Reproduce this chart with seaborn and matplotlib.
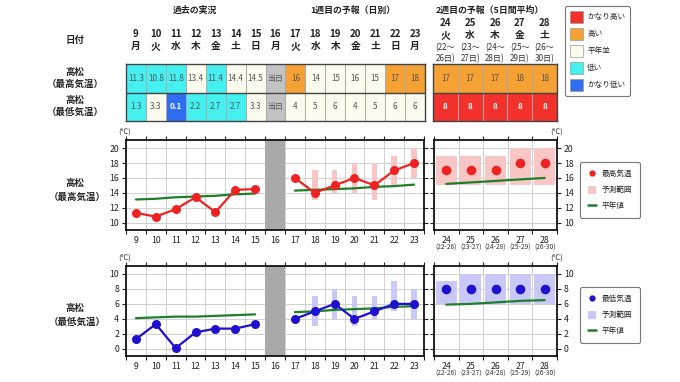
import numpy as np
import pandas as pd
import matplotlib
matplotlib.use("Agg")
import matplotlib.pyplot as plt
import seaborn as sns
from matplotlib.colors import ListedColormap
from matplotlib.patches import Patch
from matplotlib.lines import Line2D
from matplotlib.ticker import FixedLocator

sns.set_theme(style="white")
plt.rcParams["font.family"] = ["Noto Sans CJK JP", "DejaVu Sans"]

# ---------------- data ----------------
days_all = list(range(9, 24))          # 9..23 (16 = today)
past_days = [9, 10, 11, 12, 13, 14, 15]
week1_days = [17, 18, 19, 20, 21, 22, 23]
week2_days = [24, 25, 26, 27, 28]
weekday_1 = ["月", "火", "水", "木", "金", "土", "日", "月", "火", "水", "木", "金", "土", "日", "月"]
weekday_2 = ["火", "水", "木", "金", "土"]
week2_from = ["22", "23", "24", "25", "26"]
week2_to = ["26", "27", "28", "29", "30"]

max_obs = [11.3, 10.8, 11.8, 13.4, 11.4, 14.4, 14.5]
min_obs = [1.3, 3.3, 0.1, 2.2, 2.7, 2.7, 3.3]
max_fc1 = [16, 14, 15, 16, 15, 17, 18]
min_fc1 = [4, 5, 6, 4, 5, 6, 6]
max_fc1_lo = [np.nan, 13, 14, 14, 13, 15, 16]
max_fc1_hi = [np.nan, 17, 17, 18, 18, 19, 20]
min_fc1_lo = [np.nan, 3, 4, 3, 4, 5, 4]
min_fc1_hi = [np.nan, 7, 8, 7, 7, 9, 8]
max_fc2 = [17, 17, 17, 18, 18]
min_fc2 = [8, 8, 8, 8, 8]
max_fc2_lo = [15, 15, 15, 15, 15]
max_fc2_hi = [19, 19, 19, 20, 20]
min_fc2_lo = [6, 6, 6, 6, 6]
min_fc2_hi = [9, 10, 10, 10, 10]

max_norm_past = [13.1, 13.2, 13.4, 13.5, 13.6, 13.8, 13.9]
max_norm_w1 = [14.3, 14.4, 14.5, 14.6, 14.8, 14.9, 15.1]
max_norm_w2 = [15.2, 15.4, 15.6, 15.8, 16.0]
min_norm_past = [4.1, 4.2, 4.3, 4.3, 4.4, 4.5, 4.6]
min_norm_w1 = [4.9, 5.0, 5.2, 5.3, 5.4, 5.6, 5.7]
min_norm_w2 = [5.9, 6.0, 6.2, 6.4, 6.5]

# class codes: 0 かなり低い, 1 低い, 2 平年並, 3 高い, 4 かなり高い, 5 当日
max_cls1 = [1, 1, 1, 2, 1, 2, 2, 5, 3, 2, 2, 2, 2, 3, 3]
min_cls1 = [1, 2, 0, 1, 1, 1, 2, 5, 2, 2, 2, 2, 2, 2, 2]
max_cls2 = [3, 3, 3, 3, 3]
min_cls2 = [4, 4, 4, 4, 4]
class_names = ["かなり高い", "高い", "平年並", "低い", "かなり低い"]
class_colors = ["#2f6ef2", "#44f0f0", "#fcfcee", "#f5a133", "#f2312c", "#c3c3c3"]

RED = "#ee2222"
BLUE = "#1f10d0"
PINK = "#f9c6c6"
LAV = "#c9c9f7"
GREEN = "#1e7f2a"
GRAY_TXT = "#555555"

# ---------------- figure ----------------
W, H = 680, 382
fig = plt.figure(figsize=(6.8, 3.82), dpi=100)


def add_ax(x0, y0, x1, y1):
    return fig.add_axes([x0 / W, 1 - y1 / H, (x1 - x0) / W, (y1 - y0) / H])


def ftext(px, py, s, **kw):
    kw.setdefault("ha", "center")
    kw.setdefault("va", "center")
    kw.setdefault("color", "#222222")
    fig.text(px / W, 1 - py / H, s, **kw)


cmap = ListedColormap(class_colors)


def draw_table(ax, cls_rows, lbl_rows):
    sns.heatmap(np.array(cls_rows), ax=ax, cmap=cmap, vmin=-0.5, vmax=5.5, cbar=False,
                annot=np.array(lbl_rows), fmt="", linewidths=0.6, linecolor="#aaaaaa",
                annot_kws={"fontsize": 5.8}, xticklabels=False, yticklabels=False)
    flat = [c for r in cls_rows for c in r]
    for t, c in zip(ax.texts, flat):
        if c in (0, 4):
            t.set_color("white")
            t.set_fontweight("bold")
        else:
            t.set_color(GRAY_TXT)
    for s in ax.spines.values():
        s.set_visible(True)
        s.set_color("#444444")
        s.set_linewidth(1.0)
    ax.axhline(1, color="#444444", lw=1.0)


def fmt_obs(v):
    return f"{v:.1f}"


max_lbl1 = [fmt_obs(v) for v in max_obs] + ["当日"] + [str(v) for v in max_fc1]
min_lbl1 = [fmt_obs(v) for v in min_obs] + ["当日"] + [str(v) for v in min_fc1]

t1 = add_ax(126, 64, 425, 121)
draw_table(t1, [max_cls1, min_cls1], [max_lbl1, min_lbl1])
t2 = add_ax(433, 64, 557, 121)
draw_table(t2, [max_cls2, min_cls2], [[str(v) for v in max_fc2], [str(v) for v in min_fc2]])

# section titles
ftext(195, 10, "過去の実況", fontsize=6.4, fontweight="bold")
ftext(353, 10, "1週目の予報（日別）", fontsize=6.4, fontweight="bold")
ftext(490, 10, "2週目の予報（5日間平均）", fontsize=6.4, fontweight="bold")

# header
ftext(75, 40, "日付", fontsize=6.8, fontweight="bold")
cw1 = (425 - 126) / 15
for i, (d, wd) in enumerate(zip(days_all, weekday_1)):
    cx = 126 + (i + 0.5) * cw1
    ftext(cx, 34, str(d), fontsize=7, fontweight="bold")
    ftext(cx, 46, wd, fontsize=7, fontweight="bold")
cw2 = (557 - 433) / 5
for i, d in enumerate(week2_days):
    cx = 433 + (i + 0.5) * cw2
    ftext(cx, 23, str(d), fontsize=7, fontweight="bold")
    ftext(cx, 35, weekday_2[i], fontsize=7, fontweight="bold")
    ftext(cx, 48, f"({week2_from[i]}～", fontsize=5.8, color="#333333")
    ftext(cx, 59, f"{week2_to[i]}日)", fontsize=5.8, color="#333333")

for (yy, s) in [(72, "高松"), (84, "（最高気温）"), (100, "高松"), (112, "（最低気温）")]:
    ftext(75, yy, s, fontsize=6.8, fontweight="bold")

# top-right legend
top_handles = [Patch(facecolor=class_colors[4], edgecolor="#999999", lw=0.5),
               Patch(facecolor=class_colors[3], edgecolor="#999999", lw=0.5),
               Patch(facecolor=class_colors[2], edgecolor="#999999", lw=0.5),
               Patch(facecolor=class_colors[1], edgecolor="#999999", lw=0.5),
               Patch(facecolor=class_colors[0], edgecolor="#999999", lw=0.5)]
lg = fig.legend(top_handles, class_names, loc="upper left", bbox_to_anchor=(565 / W, 1 - 6 / H),
                fontsize=5.5, frameon=True, fancybox=True, edgecolor="#555555",
                handlelength=1.7, handleheight=2.1, handletextpad=0.6, labelspacing=0.62,
                borderpad=0.6, borderaxespad=0)
lg.get_frame().set_linewidth(0.8)


# ---------------- charts ----------------
def style_axes(ax, xlo, xhi, ylo, yhi, yticks, right=False):
    ax.set_xlim(xlo, xhi)
    ax.set_ylim(ylo, yhi)
    ax.xaxis.set_minor_locator(FixedLocator(np.arange(xlo, xhi + 0.01, 1.0)))
    ax.set_yticks(yticks)
    ax.grid(False)
    ax.grid(True, which="minor", axis="x", color="#d0d0d0", lw=0.7)
    ax.grid(True, which="major", axis="y", color="#d0d0d0", lw=0.7)
    ax.tick_params(axis="x", which="major", length=0, labelsize=6.3, pad=4, colors="#222222")
    ax.tick_params(axis="x", which="minor", length=3, width=0.8, direction="out", top=True, bottom=True,
                   color="#222222")
    ax.tick_params(axis="y", which="major", length=3, width=0.8, direction="out", labelsize=6.3,
                   left=True, right=True, colors="#222222", pad=2)
    if right:
        ax.yaxis.tick_right()
        ax.tick_params(axis="y", left=True, right=True, labelleft=False, labelright=True)
    else:
        ax.tick_params(axis="y", labelleft=True, labelright=False)
    for s in ax.spines.values():
        s.set_visible(True)
        s.set_color("#111111")
        s.set_linewidth(1.3)
    ax.set_axisbelow(True)


def draw_chart(y0, y1, obs, fc1, lo1, hi1, fc2, lo2, hi2, n_past, n_w1, n_w2,
               col, rng_col, ylim, yticks, label, lab_y, sub_y):
    a1 = add_ax(126, y0, 424, y1)
    a2 = add_ax(434, y0, 557, y1)
    style_axes(a1, 8.5, 23.5, ylim[0], ylim[1], yticks)
    style_axes(a2, 23.5, 28.5, ylim[0], ylim[1], yticks, right=True)
    a1.axvspan(15.5, 16.5, color="#a9a9a9", zorder=1.5, lw=0)

    lo1a, hi1a = np.array(lo1, float), np.array(hi1, float)
    a1.bar(week1_days, hi1a - lo1a, bottom=lo1a, width=0.28, color=rng_col, zorder=2, lw=0)
    a2.bar(week2_days, np.array(hi2) - np.array(lo2), bottom=lo2, width=0.86, color=rng_col,
           zorder=2, lw=0)

    sns.lineplot(x=past_days, y=n_past, ax=a1, color=GREEN, lw=1.6, zorder=3)
    sns.lineplot(x=week1_days, y=n_w1, ax=a1, color=GREEN, lw=1.6, zorder=3)
    sns.lineplot(x=week2_days, y=n_w2, ax=a2, color=GREEN, lw=1.6, zorder=3)

    for xs, ys in [(past_days, obs), (week1_days, fc1)]:
        sns.lineplot(x=xs, y=ys, ax=a1, color=col, lw=1.6, marker="o", markersize=6.5,
                     markeredgewidth=0, zorder=4)
    sns.scatterplot(x=week2_days, y=fc2, ax=a2, color=col, s=48, linewidth=0, zorder=4)

    for a in (a1, a2):
        a.set_xlabel("")
        a.set_ylabel("")
    a1.set_xticks(days_all)
    a1.set_xticklabels([str(d) for d in days_all])
    a2.set_xticks(week2_days)
    a2.set_xticklabels([str(d) for d in week2_days])
    a1.set_xlim(8.5, 23.5)
    a2.set_xlim(23.5, 28.5)
    a1.set_ylim(*ylim)
    a2.set_ylim(*ylim)
    for d, f, t in zip(week2_days, week2_from, week2_to):
        a2.text(d, sub_y, f"({f}-{t})", transform=a2.get_xaxis_transform(), ha="center", va="center",
                fontsize=4.8, color="#333333")

    ftext(125, y0 - 7, "(℃)", fontsize=5.5, color="#333333")
    ftext(557, y0 - 7, "(℃)", fontsize=5.5, color="#333333")
    ftext(75, lab_y, "高松", fontsize=6.8, fontweight="bold")
    ftext(77, lab_y + 14, label, fontsize=6.8, fontweight="bold")
    return a1, a2


draw_chart(140, 230, max_obs, max_fc1, max_fc1_lo, max_fc1_hi, max_fc2, max_fc2_lo, max_fc2_hi,
           max_norm_past, max_norm_w1, max_norm_w2, RED, PINK, (9, 21.1),
           [10, 12, 14, 16, 18, 20], "（最高気温）", 183, -0.2)
draw_chart(266, 356, min_obs, min_fc1, min_fc1_lo, min_fc1_hi, min_fc2, min_fc2_lo, min_fc2_hi,
           min_norm_past, min_norm_w1, min_norm_w2, BLUE, LAV, (-0.95, 11.05),
           [0, 2, 4, 6, 8, 10], "（最低気温）", 308, -0.19)


def chart_legend(py, col, rng_col, name):
    hs = [Line2D([], [], marker="o", color=col, lw=0, markersize=3.5),
          Patch(facecolor=rng_col, lw=0),
          Line2D([], [], color=GREEN, lw=1.8)]
    l = fig.legend(hs, [name, "予測範囲", "平年値"], loc="upper left",
                   bbox_to_anchor=(580 / W, 1 - py / H), fontsize=5.5, frameon=True, fancybox=True,
                   edgecolor="#555555", handlelength=1.1, handleheight=1.3, handletextpad=0.7,
                   labelspacing=0.95, borderpad=1.0, borderaxespad=0)
    l.get_frame().set_linewidth(0.8)


chart_legend(162, RED, PINK, "最高気温")
chart_legend(287, BLUE, LAV, "最低気温")

fig.savefig("out.png", dpi=100, facecolor="white")
